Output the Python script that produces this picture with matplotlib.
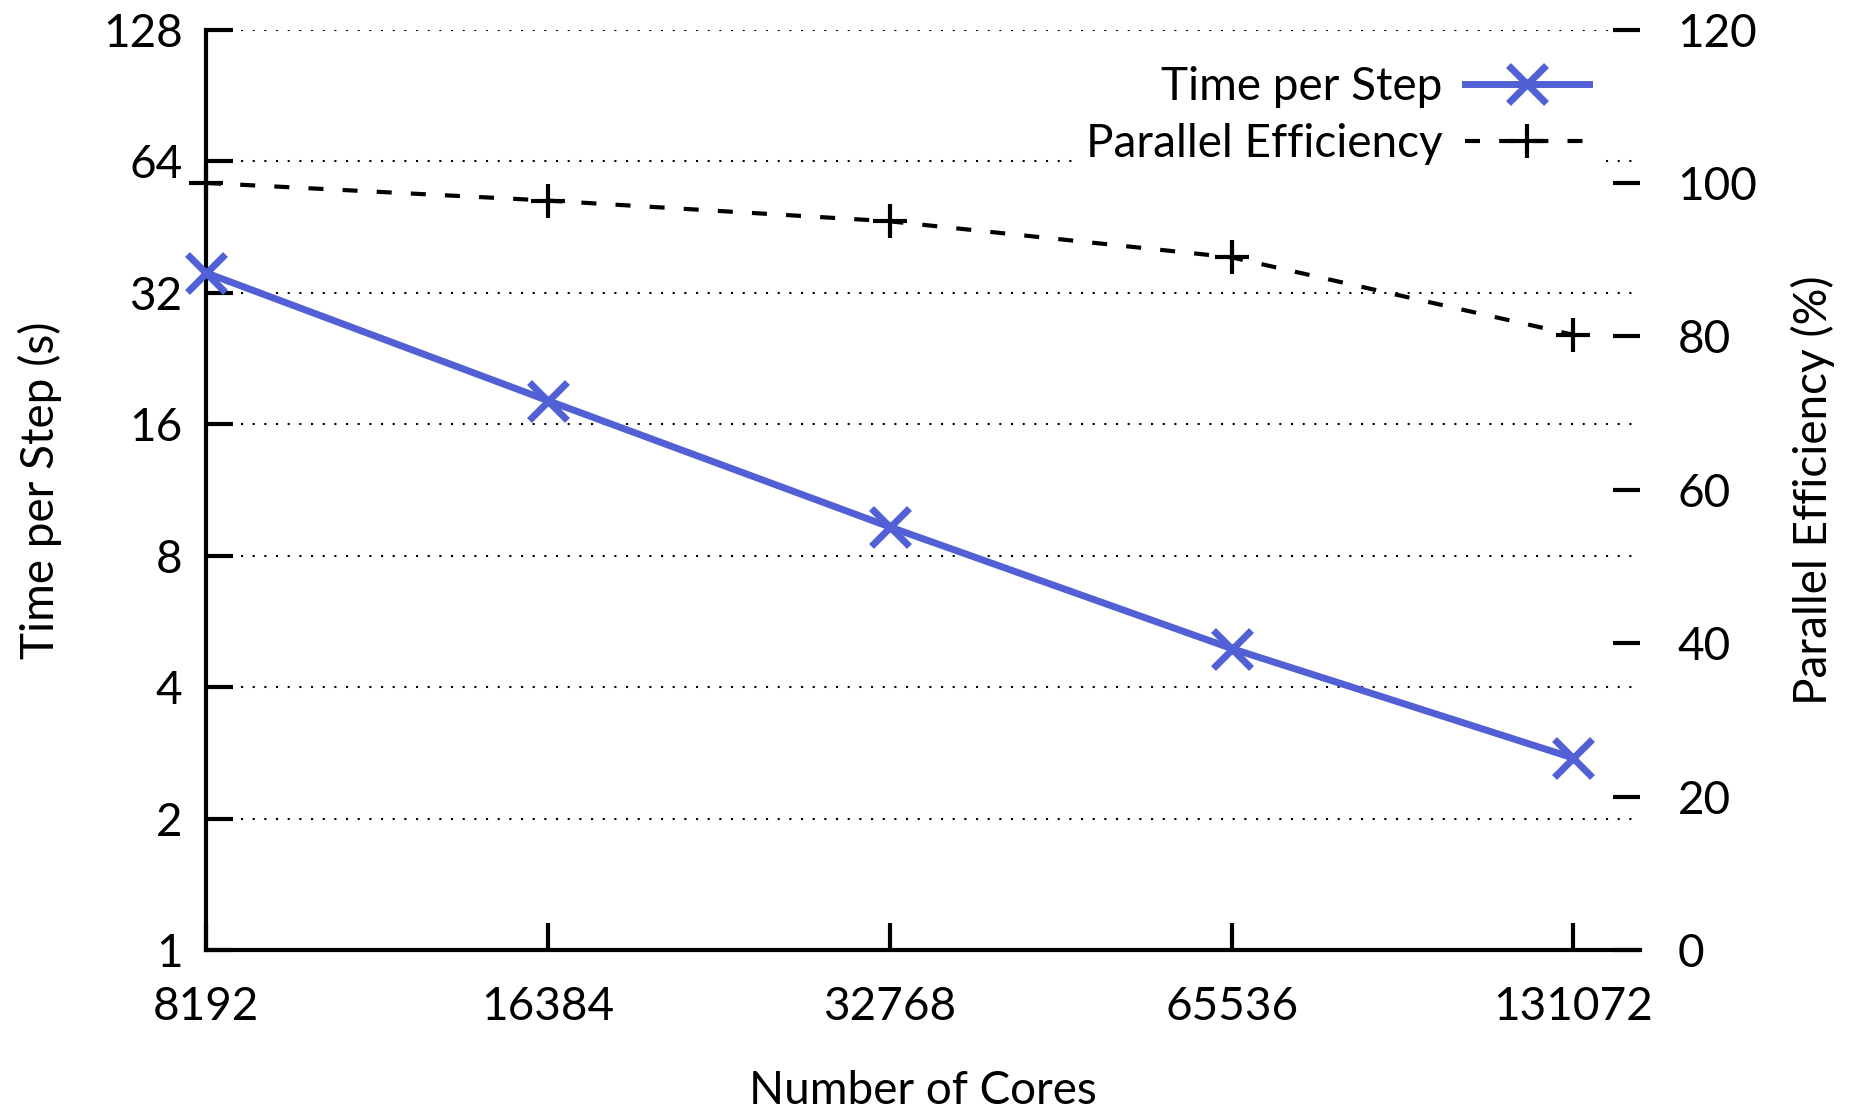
import matplotlib
matplotlib.use("Agg")
import matplotlib.pyplot as plt
from matplotlib.ticker import FixedLocator, NullLocator

plt.rcParams['font.family'] = ['Lato', 'DejaVu Sans']

cores = [8192, 16384, 32768, 65536, 131072]
time_per_step = [35.5, 18.1, 9.3, 4.9, 2.75]
efficiency = [100, 97.7, 95.0, 90.3, 80.2]

y_ticks = [1, 2, 4, 8, 16, 32, 64, 128]
y2_ticks = [0, 20, 40, 60, 80, 100, 120]

blue = "#5160d4"
fs = 33

fig = plt.figure(figsize=(18.5, 11.1), dpi=100)
ax = fig.add_subplot(111)
fig.subplots_adjust(left=0.1114, right=0.8865, top=0.9734, bottom=0.1441)
ax2 = ax.twinx()

ax.set_xscale("log", base=2)
ax.set_yscale("log", base=2)
ax.set_xlim(8192, 150000)
ax.set_ylim(1, 128)
ax2.set_ylim(0, 120)

# dotted grid at the left axis ticks
for v in y_ticks[1:]:
    ax.axhline(v, color="black", lw=1.5, ls=(0, (1, 4.6)), zorder=0)

l1, = ax.plot(cores, time_per_step, color=blue, lw=5, marker="x",
              markersize=27, markeredgewidth=5, clip_on=False, zorder=5,
              label="Time per Step")
l2, = ax2.plot(cores, efficiency, color="black", lw=3, ls=(0, (3.6, 4.6)),
               marker="+", markersize=25, markeredgewidth=3, clip_on=False,
               zorder=5, label="Parallel Efficiency")

ax.xaxis.set_major_locator(FixedLocator(cores))
ax.xaxis.set_minor_locator(NullLocator())
ax.set_xticklabels([str(c) for c in cores])
ax.yaxis.set_major_locator(FixedLocator(y_ticks))
ax.yaxis.set_minor_locator(NullLocator())
ax.set_yticklabels([str(v) for v in y_ticks])
ax2.yaxis.set_major_locator(FixedLocator(y2_ticks))
ax2.set_yticklabels([str(v) for v in y2_ticks])

for s in ["top", "right"]:
    ax.spines[s].set_visible(False)
for s in ax2.spines:
    ax2.spines[s].set_visible(False)
ax.spines["left"].set_linewidth(3)
ax.spines["bottom"].set_linewidth(3)

ax.tick_params(axis="both", which="major", direction="in", length=19.5, width=3,
               labelsize=fs)
ax.tick_params(axis="x", pad=26)
ax.tick_params(axis="y", pad=17)
ax2.tick_params(axis="y", direction="in", length=19.5, width=3, labelsize=fs, pad=27)

ax.set_xlabel("Number of Cores", fontsize=fs, labelpad=30)
ax.set_ylabel("Time per Step (s)", fontsize=fs, labelpad=29)
ax2.set_ylabel("Parallel Efficiency (%)", fontsize=fs, labelpad=24)

leg = ax2.legend(handles=[l1, l2], loc="upper right", bbox_to_anchor=(0.99, 1.0),
                 fontsize=fs, markerfirst=False, frameon=True, facecolor="white",
                 edgecolor="none", framealpha=1, handlelength=2.7,
                 handletextpad=0.5, labelspacing=0.32, borderpad=0.3)
leg.set_zorder(10)

fig.savefig("out.png", dpi=100)
